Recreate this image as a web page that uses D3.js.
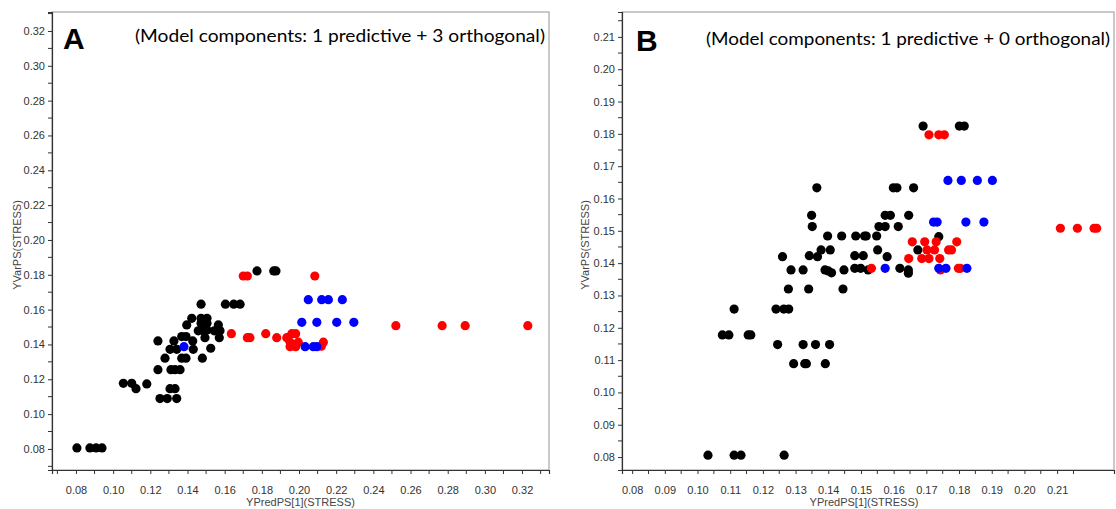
<!DOCTYPE html>
<html>
<head>
<meta charset="utf-8">
<script src="https://cdn.jsdelivr.net/npm/d3@7"></script>
<style>
  html, body { margin: 0; padding: 0; background: #fff; }
  svg { display: block; }
</style>
</head>
<body>
<svg id="chart" width="1116" height="509"></svg>
<script>
// ---------- Data ----------
// Panel A (1 predictive + 3 orthogonal)
const aBlack = [
  [0.0805,0.0806],[0.0875,0.0806],[0.0908,0.0806],[0.0940,0.0806],
  [0.1055,0.1177],[0.1100,0.1177],[0.1123,0.1146],[0.1181,0.1173],
  [0.1252,0.1089],[0.1291,0.1089],[0.1342,0.1089],
  [0.1306,0.1146],[0.1333,0.1146],
  [0.1241,0.1255],[0.1311,0.1255],[0.1333,0.1255],[0.1360,0.1255],
  [0.1279,0.1321],[0.1369,0.1321],[0.1392,0.1321],[0.1480,0.1321],
  [0.1306,0.1372],[0.1342,0.1372],[0.1431,0.1372],[0.1525,0.1378],
  [0.1241,0.1420],[0.1327,0.1420],[0.1369,0.1445],[0.1392,0.1445],[0.1428,0.1420],[0.1494,0.1439],[0.1571,0.1439],
  [0.1458,0.1478],[0.1485,0.1478],[0.1505,0.1483],[0.1544,0.1478],[0.1575,0.1478],
  [0.1396,0.1512],[0.1473,0.1522],[0.1505,0.1522],[0.1566,0.1512],
  [0.1423,0.1550],[0.1473,0.1550],[0.1505,0.1550],
  [0.1473,0.1631],[0.1604,0.1631],[0.1649,0.1631],[0.1683,0.1631],
  [0.1774,0.1822],[0.1864,0.1822],[0.1876,0.1822]
];
const aRed = [
  [0.1700,0.1793],[0.1722,0.1793],[0.2085,0.1793],
  [0.1636,0.1462],[0.1722,0.1439],[0.1736,0.1439],[0.1821,0.1462],[0.1880,0.1439],
  [0.1934,0.1439],[0.1961,0.1462],[0.1982,0.1462],
  [0.1952,0.1413],[0.1996,0.1413],[0.1952,0.1387],[0.1982,0.1387],[0.2131,0.1413],[0.2120,0.1390],
  [0.2521,0.1508],[0.2770,0.1508],[0.2894,0.1508],[0.3231,0.1508]
];
const aBlue = [
  [0.1381,0.1387],
  [0.2050,0.1657],[0.2122,0.1657],[0.2158,0.1657],[0.2233,0.1657],
  [0.2015,0.1527],[0.2096,0.1527],[0.2203,0.1527],[0.2295,0.1527],
  [0.2033,0.1387],[0.2077,0.1387],[0.2096,0.1387]
];
// Panel B (1 predictive + 0 orthogonal)
const bBlack = [
  [0.1032,0.0806],[0.1112,0.0806],[0.1133,0.0806],[0.1265,0.0806],
  [0.1294,0.1089],[0.1328,0.1089],[0.1333,0.1089],[0.1391,0.1089],
  [0.1245,0.1148],[0.1323,0.1148],[0.1361,0.1148],[0.1404,0.1148],
  [0.1076,0.1178],[0.1096,0.1178],[0.1155,0.1178],[0.1163,0.1178],
  [0.1112,0.1258],[0.1240,0.1258],[0.1264,0.1258],[0.1279,0.1258],
  [0.1278,0.1320],[0.1340,0.1320],[0.1445,0.1320],
  [0.1286,0.1379],[0.1323,0.1379],[0.1390,0.1379],[0.1448,0.1379],[0.1522,0.1379],
  [0.1400,0.1376],[0.1410,0.1370],[0.1481,0.1384],[0.1499,0.1384],
  [0.1619,0.1384],[0.1645,0.1379],[0.1645,0.1369],
  [0.1260,0.1420],[0.1342,0.1423],[0.1367,0.1420],[0.1481,0.1423],[0.1507,0.1423],[0.1580,0.1420],
  [0.1378,0.1441],[0.1406,0.1441],[0.1551,0.1441],[0.1674,0.1441],
  [0.1398,0.1484],[0.1441,0.1484],[0.1484,0.1484],[0.1511,0.1484],[0.1516,0.1484],[0.1548,0.1484],[0.1738,0.1482],
  [0.1351,0.1513],[0.1555,0.1513],[0.1574,0.1513],[0.1614,0.1513],
  [0.1349,0.1548],[0.1574,0.1548],[0.1590,0.1548],[0.1646,0.1548],
  [0.1365,0.1633],[0.1599,0.1633],[0.1610,0.1633],[0.1661,0.1633],
  [0.1690,0.1824],[0.1801,0.1824],[0.1816,0.1824]
];
const bRed = [
  [0.1708,0.1797],[0.1738,0.1797],[0.1755,0.1797],
  [0.2110,0.1508],[0.2162,0.1508],[0.2213,0.1508],[0.2221,0.1508],
  [0.1657,0.1466],[0.1695,0.1466],[0.1730,0.1466],[0.1793,0.1466],
  [0.1702,0.1441],[0.1725,0.1441],[0.1768,0.1441],[0.1777,0.1441],
  [0.1646,0.1414],[0.1686,0.1414],[0.1708,0.1414],[0.1741,0.1414],
  [0.1532,0.1384],[0.1798,0.1384],[0.1804,0.1384],[0.1743,0.1379]
];
const bBlue = [
  [0.1766,0.1656],[0.1807,0.1656],[0.1856,0.1656],[0.1902,0.1656],
  [0.1722,0.1527],[0.1733,0.1527],[0.1821,0.1527],[0.1876,0.1527],
  [0.1574,0.1384],[0.1738,0.1384],[0.1760,0.1384],[0.1824,0.1384]
];

// Tick labels
const aTicks = [0.08,0.10,0.12,0.14,0.16,0.18,0.20,0.22,0.24,0.26,0.28,0.30,0.32];
const aMinor = [0.07,0.09,0.11,0.13,0.15,0.17,0.19,0.21,0.23,0.25,0.27,0.29,0.31,0.33];
const bTicks = [0.08,0.09,0.10,0.11,0.12,0.13,0.14,0.15,0.16,0.17,0.18,0.19,0.20,0.21];
const bMinor = [0.085,0.095,0.105,0.115,0.125,0.135,0.145,0.155,0.165,0.175,0.185,0.195,0.205,0.215];

const aXDomain = [0.0671, 0.3345], aYDomain = [0.0679, 0.3309];
const bXDomain = [0.0769, 0.2274], bYDomain = [0.0760, 0.2177];

const titles = {
  A: "(Model components: 1 predictive + 3 orthogonal)",
  B: "(Model components: 1 predictive + 0 orthogonal)"
};
const xTitle = "YPredPS[1](STRESS)";
const yTitle = "YVarPS(STRESS)";

// ---------- Drawing ----------
const svg = d3.select("#chart");
svg.append("rect").attr("width",1116).attr("height",509).attr("fill","#fff");

const colors = { black: "#000000", red: "#ff0000", blue: "#0000ff" };

function panel(cfg) {
  const x = d3.scaleLinear().domain(cfg.xDomain).range([cfg.left, cfg.right]);
  const y = d3.scaleLinear().domain(cfg.yDomain).range([cfg.bottom, cfg.top]);
  const g = svg.append("g");

  // frame (top/right gray)
  g.append("rect")
    .attr("x", cfg.left).attr("y", cfg.top)
    .attr("width", cfg.right - cfg.left).attr("height", cfg.bottom - cfg.top)
    .attr("fill", "none").attr("stroke", "#a6a6a6").attr("stroke-width", 1.2);

  const fmt = d3.format(".2f");
  const inX = v => v >= cfg.xDomain[0] && v <= cfg.xDomain[1];
  const inY = v => v >= cfg.yDomain[0] && v <= cfg.yDomain[1];

  // x axis
  const xa = g.append("g").attr("transform", `translate(0,${cfg.bottom})`)
    .call(d3.axisBottom(x).tickValues(cfg.ticks.filter(inX)).tickFormat(fmt).tickSize(4).tickPadding(12));
  xa.append("g").selectAll("line").data(cfg.minor.filter(inX)).join("line")
    .attr("x1", d => x(d)).attr("x2", d => x(d)).attr("y1", 0).attr("y2", 4)
    .attr("stroke", "#333");
  // y axis
  const ya = g.append("g").attr("transform", `translate(${cfg.left},0)`)
    .call(d3.axisLeft(y).tickValues(cfg.ticks.filter(inY)).tickFormat(fmt).tickSize(4).tickPadding(3));
  ya.append("g").selectAll("line").data(cfg.minor.filter(inY)).join("line")
    .attr("y1", d => y(d)).attr("y2", d => y(d)).attr("x1", 0).attr("x2", -4)
    .attr("stroke", "#333");

  [xa, ya].forEach(a => {
    a.select(".domain").attr("stroke", "#333").attr("stroke-width", 1.2);
    a.selectAll(".tick line").attr("stroke", "#333");
    a.selectAll("text").attr("font-family", "Liberation Sans, Arial, sans-serif")
      .attr("font-size", 11).attr("fill", "#333");
  });

  // axis titles
  g.append("text").attr("x", (cfg.left + cfg.right) / 2 + cfg.xTitleShift).attr("y", 506)
    .attr("text-anchor", "middle").attr("font-family", "Liberation Sans, Arial, sans-serif")
    .attr("font-size", 11).attr("fill", "#444").text(xTitle);
  g.append("text")
    .attr("transform", `translate(${cfg.yTitleX},${cfg.yTitleY}) rotate(-90)`)
    .attr("text-anchor", "middle").attr("font-family", "Liberation Sans, Arial, sans-serif")
    .attr("font-size", 11).attr("fill", "#444").text(yTitle);

  // points: black, red, blue
  [["black", cfg.black], ["red", cfg.red], ["blue", cfg.blue]].forEach(([c, arr]) => {
    g.append("g").selectAll("circle").data(arr).join("circle")
      .attr("cx", d => x(d[0])).attr("cy", d => y(d[1])).attr("r", 4.6)
      .attr("fill", colors[c]);
  });

  // panel letter and title
  g.append("text").attr("x", cfg.letterX).attr("y", cfg.letterY)
    .attr("font-family", "Liberation Sans, Arial, sans-serif").attr("font-weight", "bold")
    .attr("font-size", 30).attr("fill", "#000").text(cfg.letter);
  g.append("text").attr("x", cfg.titleX).attr("y", cfg.titleY)
    .attr("font-family", "Lato, Open Sans, sans-serif")
    .attr("font-size", 18).attr("fill", "#000")
    .attr("textLength", cfg.titleW).attr("lengthAdjust", "spacingAndGlyphs")
    .text(cfg.title);
}

panel({
  left: 52, right: 549, top: 12, bottom: 470,
  xDomain: aXDomain, yDomain: aYDomain, ticks: aTicks, minor: aMinor,
  black: aBlack, red: aRed, blue: aBlue,
  letter: "A", letterX: 63, letterY: 49,
  title: titles.A, titleX: 135, titleY: 42, titleW: 410,
  yTitleX: 21, yTitleY: 245, xTitleShift: 0
});
panel({
  left: 622, right: 1114, top: 12, bottom: 470,
  xDomain: bXDomain, yDomain: bYDomain, ticks: bTicks, minor: bMinor,
  black: bBlack, red: bRed, blue: bBlue,
  letter: "B", letterX: 636, letterY: 51,
  title: titles.B, titleX: 706, titleY: 45, titleW: 404,
  yTitleX: 589, yTitleY: 245, xTitleShift: -4
});
</script>
</body>
</html>
